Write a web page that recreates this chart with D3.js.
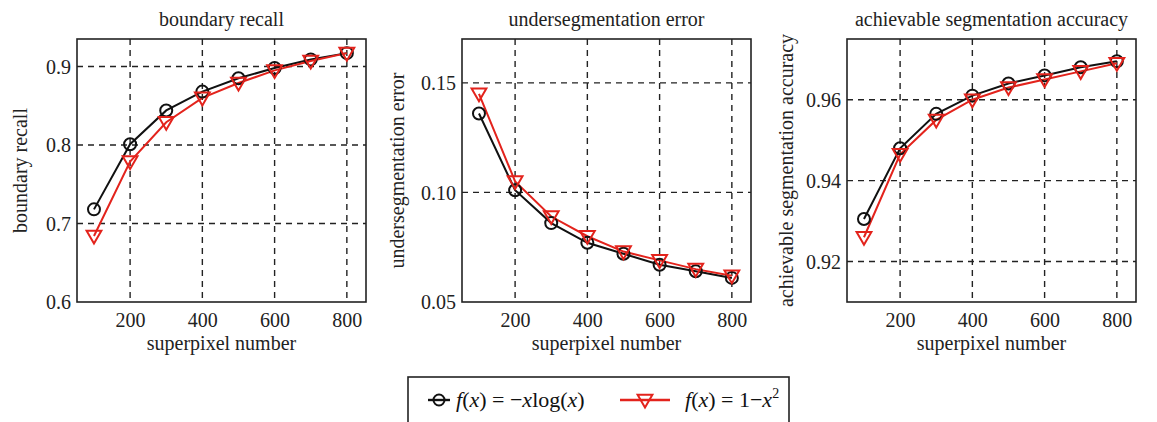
<!DOCTYPE html>
<html>
<head>
<meta charset="utf-8">
<script src="https://cdn.jsdelivr.net/npm/d3@7"></script>
</head>
<body style="margin:0">
<svg id="viz" width="1157" height="422"></svg>
<script>
// superpixel counts shared by all three panels
const superpixels = [100, 200, 300, 400, 500, 600, 700, 800];
const xTicks = [200, 400, 600, 800];

// boundary recall
const brXlog = [0.718, 0.801, 0.844, 0.868, 0.885, 0.898, 0.909, 0.917];
const brSquare = [0.684, 0.779, 0.829, 0.860, 0.879, 0.895, 0.907, 0.917];
const brTicks = [0.6, 0.7, 0.8, 0.9];

// undersegmentation error
const ueXlog = [0.136, 0.101, 0.086, 0.077, 0.072, 0.067, 0.064, 0.061];
const ueSquare = [0.145, 0.105, 0.089, 0.080, 0.073, 0.069, 0.065, 0.062];
const ueTicks = [0.05, 0.10, 0.15];

// achievable segmentation accuracy
const asaXlog = [0.9305, 0.948, 0.9565, 0.961, 0.964, 0.966, 0.968, 0.9695];
const asaSquare = [0.926, 0.9465, 0.955, 0.960, 0.963, 0.965, 0.967, 0.969];
const asaTicks = [0.92, 0.94, 0.96];

var svg = d3.select("#viz");
const RED = "#e3231c";
const BLACK = "#111";
const FONT = '"Liberation Serif", Tinos, "Times New Roman", "DejaVu Serif"';

const panels = [
    { title: "boundary recall", ylabel: "boundary recall", left: 77, domain: [0.6, 0.935],
      ticks: brTicks, fmt: d3.format(".1f"), a: brXlog, b: brSquare, ylabelX: 27 },
    { title: "undersegmentation error", ylabel: "undersegmentation error", left: 462, domain: [0.05, 0.17],
      ticks: ueTicks, fmt: d3.format(".2f"), a: ueXlog, b: ueSquare, ylabelX: 404 },
    { title: "achievable segmentation accuracy", ylabel: "achievable segmentation accuracy", left: 847, domain: [0.91, 0.975],
      ticks: asaTicks, fmt: d3.format(".2f"), a: asaXlog, b: asaSquare, ylabelX: 793 }
];

const pw = 289, plotTop = 39, ph = 263;
const tri = d3.symbol().type(d3.symbolTriangle).size(95);

panels.forEach(p => {
    var g = svg.append("g").attr("transform", `translate(${p.left},${plotTop})`);
    var x = d3.scaleLinear().domain([53, 853]).range([0, pw]);
    var y = d3.scaleLinear().domain(p.domain).range([ph, 0]);

    // dashed grid
    g.append("g").selectAll("line")
        .data(xTicks).enter().append("line")
        .attr("x1", d => x(d)).attr("x2", d => x(d))
        .attr("y1", 0).attr("y2", ph)
        .attr("stroke", "#222").attr("stroke-width", 1.4)
        .attr("stroke-dasharray", "6,5");
    g.append("g").selectAll("line")
        .data(p.ticks.filter(t => t > p.domain[0])).enter().append("line")
        .attr("x1", 0).attr("x2", pw)
        .attr("y1", d => y(d)).attr("y2", d => y(d))
        .attr("stroke", "#222").attr("stroke-width", 1.4)
        .attr("stroke-dasharray", "6,5");

    // axes
    var xAxis = g.append("g")
        .attr("transform", `translate(0,${ph})`)
        .call(d3.axisBottom(x).tickValues(xTicks).tickSize(0).tickPadding(8));
    var yAxis = g.append("g")
        .call(d3.axisLeft(y).tickValues(p.ticks).tickFormat(p.fmt).tickSize(0).tickPadding(6));
    [xAxis, yAxis].forEach(ax => {
        ax.attr("font-family", null).attr("font-size", null);
        ax.select(".domain").remove();
        ax.selectAll("text").attr("font-size", 20).attr("fill", "#222");
    });
    xAxis.selectAll("text").attr("dy", "0.85em");
    yAxis.selectAll("text").attr("dy", "0.33em");

    // frame
    g.append("rect")
        .attr("width", pw).attr("height", ph)
        .attr("fill", "none").attr("stroke", "#222").attr("stroke-width", 1.6);

    var line = d3.line().x((d, i) => x(superpixels[i])).y(d => y(d));

    g.append("path").datum(p.a)
        .attr("d", line).attr("fill", "none")
        .attr("stroke", BLACK).attr("stroke-width", 2);
    g.append("path").datum(p.b)
        .attr("d", line).attr("fill", "none")
        .attr("stroke", RED).attr("stroke-width", 2);

    g.append("g").selectAll("circle")
        .data(p.a).enter().append("circle")
        .attr("cx", (d, i) => x(superpixels[i])).attr("cy", d => y(d))
        .attr("r", 6).attr("fill", "none")
        .attr("stroke", BLACK).attr("stroke-width", 2);
    g.append("g").selectAll("path")
        .data(p.b).enter().append("path")
        .attr("d", tri)
        .attr("transform", (d, i) => `translate(${x(superpixels[i])},${y(d) - 1}) rotate(180)`)
        .attr("fill", "none")
        .attr("stroke", RED).attr("stroke-width", 2);

    // titles and labels
    g.append("text")
        .attr("x", pw / 2).attr("y", -13)
        .attr("text-anchor", "middle")
        .attr("font-size", 20).attr("fill", "#222")
        .text(p.title);
    g.append("text")
        .attr("x", pw / 2).attr("y", ph + 48)
        .attr("text-anchor", "middle")
        .attr("font-size", 20).attr("fill", "#222")
        .text("superpixel number");
    svg.append("text")
        .attr("transform", `translate(${p.ylabelX},${plotTop + ph / 2}) rotate(-90)`)
        .attr("text-anchor", "middle")
        .attr("font-size", 20).attr("fill", "#222")
        .text(p.ylabel);
});

// legend
var legend = svg.append("g").attr("transform", "translate(408,377)");
legend.append("rect")
    .attr("width", 381).attr("height", 60)
    .attr("fill", "#fff").attr("stroke", "#222").attr("stroke-width", 1.6);

legend.append("line").attr("x1", 20).attr("x2", 42).attr("y1", 23).attr("y2", 23)
    .attr("stroke", BLACK).attr("stroke-width", 2.4);
legend.append("circle").attr("cx", 31).attr("cy", 23).attr("r", 5.5)
    .attr("fill", "none").attr("stroke", BLACK).attr("stroke-width", 2);

var t1 = legend.append("text").attr("x", 48).attr("y", 30)
    .attr("font-size", 22).attr("fill", "#111");
t1.append("tspan").attr("font-style", "italic").text("f");
t1.append("tspan").text("(");
t1.append("tspan").attr("font-style", "italic").text("x");
t1.append("tspan").text(") = \u2212");
t1.append("tspan").attr("font-style", "italic").text("x");
t1.append("tspan").text("log(");
t1.append("tspan").attr("font-style", "italic").text("x");
t1.append("tspan").text(")");

legend.append("line").attr("x1", 212).attr("x2", 262).attr("y1", 23).attr("y2", 23)
    .attr("stroke", RED).attr("stroke-width", 2.4);
legend.append("path").attr("d", tri)
    .attr("transform", "translate(237,22) rotate(180)")
    .attr("fill", "none").attr("stroke", RED).attr("stroke-width", 2);

var t2 = legend.append("text").attr("x", 277).attr("y", 30)
    .attr("font-size", 22).attr("fill", "#111");
t2.append("tspan").attr("font-style", "italic").text("f");
t2.append("tspan").text("(");
t2.append("tspan").attr("font-style", "italic").text("x");
t2.append("tspan").text(") = 1\u2212");
t2.append("tspan").attr("font-style", "italic").text("x");
t2.append("tspan").attr("font-size", 14).attr("dy", -9).text("2");

// serif on every text, applied now and again once the font is loaded
function applyFont() {
    svg.selectAll("text").style("font-family", FONT);
}
applyFont();
if (document.fonts && document.fonts.load) {
    document.fonts.load('20px "Liberation Serif"').then(applyFont);
    document.fonts.load('italic 20px "Liberation Serif"').then(applyFont);
}
</script>
</body>
</html>
